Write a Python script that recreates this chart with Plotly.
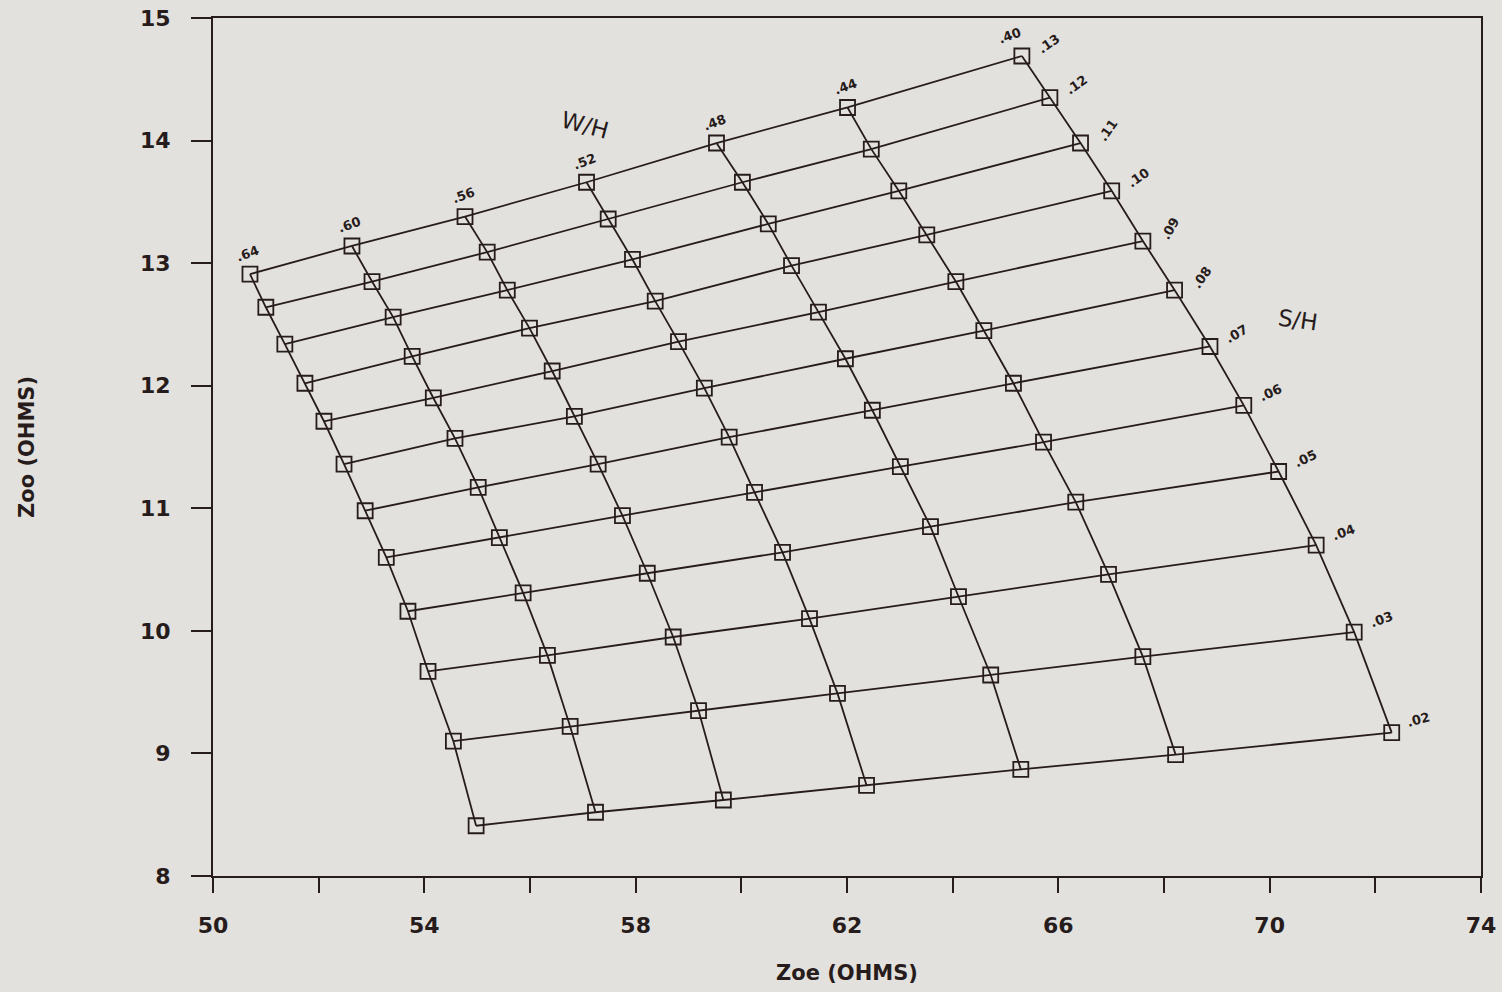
import plotly.graph_objects as go

# W/H columns (left to right) and S/H rows (top to bottom)
wh_labels = [".64", ".60", ".56", ".52", ".48", ".44", ".40"]
sh_labels = [".13", ".12", ".11", ".10", ".09", ".08", ".07", ".06", ".05", ".04", ".03", ".02"]

# Zoe / Zoo (ohms) for each W/H curve, ordered S/H = .13 ... .02
zoe_wh64 = [50.70, 51.00, 51.36, 51.74, 52.10, 52.48, 52.88, 53.28, 53.69, 54.07, 54.55, 54.98]
zoo_wh64 = [12.91, 12.64, 12.34, 12.02, 11.71, 11.36, 10.98, 10.60, 10.16, 9.67, 9.10, 8.41]
zoe_wh60 = [52.63, 53.01, 53.41, 53.77, 54.17, 54.58, 55.02, 55.42, 55.87, 56.33, 56.76, 57.24]
zoo_wh60 = [13.14, 12.85, 12.56, 12.24, 11.90, 11.57, 11.17, 10.76, 10.31, 9.80, 9.22, 8.52]
zoe_wh56 = [54.77, 55.19, 55.57, 55.99, 56.42, 56.84, 57.29, 57.75, 58.22, 58.71, 59.19, 59.66]
zoo_wh56 = [13.38, 13.09, 12.78, 12.47, 12.12, 11.75, 11.36, 10.94, 10.47, 9.95, 9.35, 8.62]
zoe_wh52 = [57.07, 57.48, 57.94, 58.37, 58.81, 59.30, 59.77, 60.25, 60.78, 61.29, 61.82, 62.37]
zoo_wh52 = [13.66, 13.36, 13.03, 12.69, 12.36, 11.98, 11.58, 11.13, 10.64, 10.10, 9.49, 8.74]
zoe_wh48 = [59.53, 60.02, 60.51, 60.95, 61.46, 61.97, 62.48, 63.01, 63.58, 64.11, 64.72, 65.29]
zoo_wh48 = [13.98, 13.66, 13.32, 12.98, 12.60, 12.22, 11.80, 11.34, 10.85, 10.28, 9.64, 8.87]
zoe_wh44 = [62.01, 62.46, 62.98, 63.51, 64.06, 64.59, 65.15, 65.72, 66.33, 66.95, 67.60, 68.22]
zoo_wh44 = [14.27, 13.93, 13.59, 13.23, 12.85, 12.45, 12.02, 11.54, 11.05, 10.46, 9.79, 8.99]
zoe_wh40 = [65.31, 65.84, 66.42, 67.01, 67.60, 68.20, 68.87, 69.51, 70.17, 70.88, 71.60, 72.31]
zoo_wh40 = [14.69, 14.35, 13.98, 13.59, 13.18, 12.78, 12.32, 11.84, 11.30, 10.70, 9.99, 9.17]

x_tick_vals = [50, 54, 58, 62, 66, 70, 74]
y_tick_vals = [8, 9, 10, 11, 12, 13, 14, 15]

zoe_cols = [zoe_wh64, zoe_wh60, zoe_wh56, zoe_wh52, zoe_wh48, zoe_wh44, zoe_wh40]
zoo_cols = [zoo_wh64, zoo_wh60, zoo_wh56, zoo_wh52, zoo_wh48, zoo_wh44, zoo_wh40]

INK = "#271c1c"
BG = "#e3e1dd"
FONT = "DejaVu Sans"

fig = go.Figure()

# constant W/H curves
for zx, zy in zip(zoe_cols, zoo_cols):
    fig.add_trace(go.Scatter(x=zx, y=zy, mode="lines",
                             line=dict(color=INK, width=1.8), hoverinfo="skip"))

# constant S/H curves
for j in range(len(sh_labels)):
    fig.add_trace(go.Scatter(x=[c[j] for c in zoe_cols], y=[c[j] for c in zoo_cols],
                             mode="lines", line=dict(color=INK, width=1.8), hoverinfo="skip"))

# markers
all_x = [v for c in zoe_cols for v in c]
all_y = [v for c in zoo_cols for v in c]
fig.add_trace(go.Scatter(x=all_x, y=all_y, mode="markers",
                         marker=dict(symbol="square-open", size=15, color=INK,
                                     line=dict(width=1.8, color=INK))))

annotations = []
# W/H labels along top curve
for i, lab in enumerate(wh_labels):
    annotations.append(dict(x=zoe_cols[i][0], y=zoo_cols[i][0], xref="x", yref="y",
                            text=lab, showarrow=False, textangle=-20,
                            xshift=-12 if i == len(wh_labels) - 1 else -2, yshift=21,
                            font=dict(family=FONT, size=13, color=INK, weight="bold")))
# S/H labels along right curve
sh_angles = [-35, -35, -55, -35, -60, -55, -30, -25, -25, -20, -20, -15]
for j, lab in enumerate(sh_labels):
    annotations.append(dict(x=zoe_wh40[j], y=zoo_wh40[j], xref="x", yref="y",
                            text=lab, showarrow=False, textangle=sh_angles[j],
                            xshift=27, yshift=13,
                            font=dict(family=FONT, size=13, color=INK, weight="bold")))
# group titles
annotations.append(dict(x=zoe_wh52[0], y=zoo_wh52[0], xref="x", yref="y",
                        text="W/H", showarrow=False, textangle=15, xshift=-2, yshift=57,
                        font=dict(family=FONT, size=23, color=INK)))
annotations.append(dict(x=zoe_wh40[6], y=zoo_wh40[6], xref="x", yref="y",
                        text="S/H", showarrow=False, textangle=8, xshift=88, yshift=26,
                        font=dict(family=FONT, size=23, color=INK)))

fig.update_layout(
    width=1502, height=992,
    margin=dict(l=213, r=21, t=18, b=116),
    paper_bgcolor=BG, plot_bgcolor=BG,
    showlegend=False,
    annotations=annotations,
    xaxis=dict(range=[50, 74], tickvals=x_tick_vals, ticktext=[str(v) for v in x_tick_vals],
               automargin=False,
               showgrid=False, zeroline=False, showline=True, linecolor=INK, linewidth=2,
               mirror=True, ticks="outside", ticklen=15, tickwidth=2, tickcolor=INK,
               minor=dict(dtick=2, tick0=50, ticks="outside", ticklen=15, tickwidth=2,
                          tickcolor=INK, showgrid=False),
               ticklabelstandoff=14,
               tickfont=dict(family=FONT, size=22, color=INK, weight="bold"),
               title=dict(text="Zoe (OHMS)", standoff=28,
                          font=dict(family=FONT, size=21, color=INK, weight="bold"))),
    yaxis=dict(range=[8, 15], tickvals=y_tick_vals, ticktext=[str(v) for v in y_tick_vals],
               automargin=False,
               showgrid=False, zeroline=False, showline=True, linecolor=INK, linewidth=2,
               mirror=True, ticks="outside", ticklen=20, tickwidth=2, tickcolor=INK,
               ticklabelstandoff=16,
               tickfont=dict(family=FONT, size=22, color=INK, weight="bold"),
               title=dict(text="Zoo (OHMS)", standoff=100,
                          font=dict(family=FONT, size=21, color=INK, weight="bold"))),
)

fig.write_html("out.html")
